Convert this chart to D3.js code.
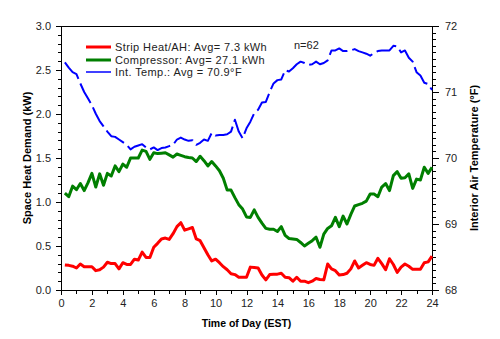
<!DOCTYPE html>
<html>
<head>
<meta charset="utf-8">
<script src="https://cdn.jsdelivr.net/npm/d3@7"></script>
<style>
  body { margin: 0; background: #fff; }
  svg { display: block; font-family: "Liberation Sans", Arial, sans-serif; }
  .axis path, .axis line { stroke: #000; shape-rendering: crispEdges; }
  .axis text { font-size: 11px; fill: #222; }
</style>
</head>
<body>
<svg id="chart" width="500" height="339"></svg>
<script>
// Hour of day, sampled every 15 minutes
const hours = d3.range(1, 97).map(i => i * 0.25);

// Strip heat / air handler demand (kW)
const stripHeat = [
  0.285, 0.28, 0.27, 0.25, 0.295, 0.265, 0.265, 0.265, 0.22, 0.23, 0.26, 0.315,
  0.30, 0.30, 0.24, 0.31, 0.29, 0.29, 0.35, 0.34, 0.43, 0.37, 0.37, 0.485,
  0.53, 0.58, 0.59, 0.575, 0.64, 0.72, 0.765, 0.68, 0.695, 0.71, 0.58, 0.56,
  0.48, 0.40, 0.33, 0.35, 0.31, 0.265, 0.23, 0.185, 0.175, 0.145, 0.145, 0.145,
  0.26, 0.255, 0.25, 0.17, 0.115, 0.175, 0.18, 0.18, 0.19, 0.145, 0.14, 0.10,
  0.145, 0.10, 0.10, 0.083, 0.10, 0.13, 0.12, 0.115, 0.295, 0.24, 0.22, 0.17,
  0.175, 0.19, 0.24, 0.33, 0.25, 0.28, 0.31, 0.29, 0.28, 0.36, 0.30, 0.23,
  0.355, 0.29, 0.20, 0.26, 0.295, 0.27, 0.235, 0.235, 0.235, 0.31, 0.32, 0.385
];

// Compressor demand (kW)
const compressor = [
  1.10, 1.06, 1.18, 1.14, 1.21, 1.13, 1.22, 1.325, 1.17, 1.32, 1.19, 1.325,
  1.295, 1.41, 1.345, 1.43, 1.395, 1.50, 1.50, 1.50, 1.59, 1.575, 1.485, 1.56,
  1.55, 1.555, 1.56, 1.535, 1.51, 1.545, 1.53, 1.515, 1.505, 1.50, 1.46, 1.52,
  1.47, 1.41, 1.46, 1.41, 1.355, 1.27, 1.135, 1.135, 1.05, 0.97, 0.92, 0.83,
  0.825, 0.91, 0.825, 0.76, 0.70, 0.69, 0.69, 0.665, 0.72, 0.62, 0.585, 0.58,
  0.575, 0.54, 0.50, 0.53, 0.56, 0.60, 0.485, 0.635, 0.70, 0.73, 0.825, 0.72,
  0.84, 0.75, 0.86, 0.955, 0.97, 0.985, 1.01, 1.09, 1.09, 1.06, 1.17, 1.21,
  1.13, 1.30, 1.345, 1.27, 1.275, 1.32, 1.155, 1.26, 1.25, 1.395, 1.325, 1.395
];

// Interior air temperature (°F)
const interiorTemp = [
  71.45, 71.37, 71.30, 71.27, 71.13, 71.00, 70.90, 70.80, 70.67, 70.56, 70.48, 70.40,
  70.33, 70.32, 70.28, 70.24, 70.20, 70.13, 70.17, 70.19, 70.21, 70.16, 70.13, 70.16,
  70.12, 70.15, 70.16, 70.18, 70.20, 70.28, 70.31, 70.28, 70.26, 70.27, 70.20, 70.23,
  70.28, 70.26, 70.38, 70.34, 70.35, 70.35, 70.36, 70.40, 70.58, 70.40, 70.30, 70.45,
  70.55, 70.68, 70.73, 70.84, 70.85, 71.00, 71.13, 71.18, 71.19, 71.33, 71.31, 71.36,
  71.42, 71.46, 71.44, 71.41, 71.42, 71.46, 71.42, 71.44, 71.48, 71.63, 71.63, 71.66,
  71.62, 71.62, 71.63, 71.65, 71.62, 71.60, 71.58, 71.55, 71.59, 71.62, 71.63, 71.63,
  71.63, 71.70, 71.69, 71.60, 71.63, 71.52, 71.46, 71.30, 71.25, 71.14, 71.12, 71.03
];

// Axis ticks
const xTicks = [0, 2, 4, 6, 8, 10, 12, 14, 16, 18, 20, 22, 24];
const kwTicks = [0, 0.5, 1.0, 1.5, 2.0, 2.5, 3.0];
const tempTicks = [68, 69, 70, 71, 72];

// Legend entries
const legendLabels = [
  "Strip Heat/AH: Avg= 7.3 kWh",
  "Compressor: Avg= 27.1 kWh",
  "Int. Temp.: Avg = 70.9\u00B0F"
];
const sampleNote = "n=62";

const svg = d3.select("#chart");
const plotLeft = 61, plotRight = 432, plotTop = 26, plotBottom = 290;

const x = d3.scaleLinear().domain([0, 24]).range([plotLeft, plotRight]);
const yKw = d3.scaleLinear().domain([0, 3]).range([plotBottom, plotTop]);
const yTemp = d3.scaleLinear().domain([68, 72]).range([plotBottom, plotTop]);

// Frame top edge
svg.append("line")
  .attr("x1", plotLeft).attr("x2", plotRight).attr("y1", plotTop + 0.5).attr("y2", plotTop + 0.5)
  .attr("stroke", "#000").attr("shape-rendering", "crispEdges");

// Minor ticks
svg.append("g").attr("class", "axis").attr("transform", `translate(${plotLeft},0)`)
  .call(d3.axisLeft(yKw).tickValues(d3.range(0, 31).map(i => i / 10)).tickSize(3).tickSizeOuter(0).tickFormat(""))
  .call(g => g.select(".domain").remove());
svg.append("g").attr("class", "axis").attr("transform", `translate(0,${plotBottom})`)
  .call(d3.axisBottom(x).tickValues(d3.range(0, 25)).tickSize(4).tickSizeOuter(0).tickFormat(""))
  .call(g => g.select(".domain").remove());
svg.append("g").attr("class", "axis").attr("transform", `translate(${plotRight},0)`)
  .call(d3.axisRight(yTemp).tickValues(d3.range(0, 41).map(i => 68 + i / 10)).tickSize(4).tickSizeOuter(0).tickFormat(""))
  .call(g => g.select(".domain").remove());

// Major axes
svg.append("g").attr("class", "axis").attr("transform", `translate(${plotLeft},0)`)
  .call(d3.axisLeft(yKw).tickValues(kwTicks).tickFormat(d3.format(".1f")).tickSize(5).tickSizeOuter(0).tickPadding(5));
svg.append("g").attr("class", "axis").attr("transform", `translate(0,${plotBottom})`)
  .call(d3.axisBottom(x).tickValues(xTicks).tickFormat(d3.format("d")).tickSize(5).tickSizeOuter(0).tickPadding(4));
svg.append("g").attr("class", "axis").attr("transform", `translate(${plotRight},0)`)
  .call(d3.axisRight(yTemp).tickValues(tempTicks).tickFormat(d3.format("d")).tickSize(7).tickSizeOuter(0).tickPadding(6));

// Series lines
const kwLine = d3.line().x((d, i) => x(hours[i])).y(d => yKw(d));
const tempLine = d3.line().x((d, i) => x(hours[i])).y(d => yTemp(d));

svg.append("path").datum(interiorTemp)
  .attr("d", tempLine).attr("fill", "none")
  .attr("stroke", "#0000ff").attr("stroke-width", 2)
  .attr("stroke-dasharray", "22,5").attr("stroke-linejoin", "round");
svg.append("path").datum(compressor)
  .attr("d", kwLine).attr("fill", "none")
  .attr("stroke", "#007f00").attr("stroke-width", 3).attr("stroke-linejoin", "round");
svg.append("path").datum(stripHeat)
  .attr("d", kwLine).attr("fill", "none")
  .attr("stroke", "#ff0000").attr("stroke-width", 3).attr("stroke-linejoin", "round");

// Legend
const legendColors = ["#ff0000", "#007f00", "#0000ff"];
const legendWidths = [3, 3, 1.5];
const legendRows = [47, 60, 72];
legendLabels.forEach((label, i) => {
  svg.append("line")
    .attr("x1", 86).attr("x2", 111).attr("y1", legendRows[i]).attr("y2", legendRows[i])
    .attr("stroke", legendColors[i]).attr("stroke-width", legendWidths[i]);
  svg.append("text")
    .attr("x", 115).attr("y", legendRows[i] + 4)
    .attr("font-size", 11).attr("fill", "#222").attr("letter-spacing", 0.4)
    .text(label);
});

svg.append("text").attr("x", 294).attr("y", 49)
  .attr("font-size", 11).attr("fill", "#222").text(sampleNote);

// Axis titles
svg.append("text")
  .attr("transform", `translate(31,${(plotTop + plotBottom) / 2}) rotate(-90)`)
  .attr("text-anchor", "middle").attr("font-size", 11).attr("font-weight", "bold")
  .text("Space Heat Demand (kW)");
svg.append("text")
  .attr("transform", `translate(478,${(plotTop + plotBottom) / 2}) rotate(-90)`)
  .attr("text-anchor", "middle").attr("font-size", 11).attr("font-weight", "bold")
  .text("Interior Air Temperature (\u00B0F)");
svg.append("text")
  .attr("x", (plotLeft + plotRight) / 2).attr("y", 327)
  .attr("text-anchor", "middle").attr("font-size", 10.5).attr("font-weight", "bold")
  .text("Time of Day (EST)");
</script>
</body>
</html>
